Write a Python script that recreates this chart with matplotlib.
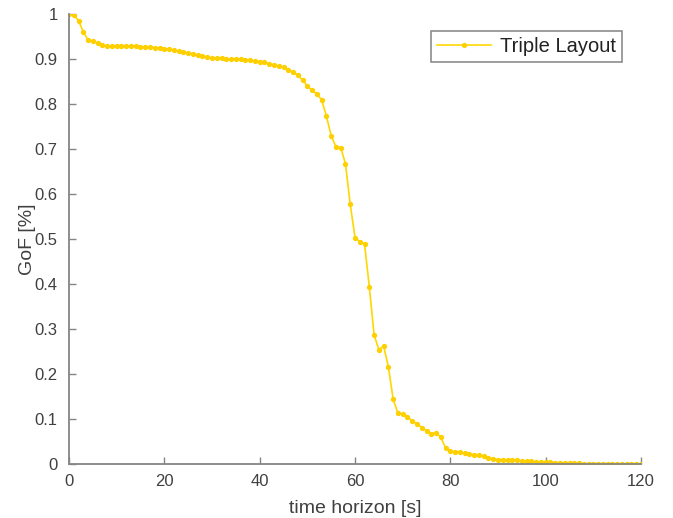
import matplotlib
matplotlib.use("Agg")
import matplotlib.pyplot as plt
import numpy as np

time_s = list(range(0, 121))
gof = [1.000, 0.998, 0.985, 0.960, 0.942, 0.940, 0.935, 0.930, 0.929, 0.928,
       0.928, 0.928, 0.928, 0.928, 0.928, 0.927, 0.927, 0.926, 0.925, 0.924,
       0.923, 0.921, 0.919, 0.917, 0.915, 0.913, 0.911, 0.908, 0.906, 0.904,
       0.902, 0.901, 0.901, 0.900, 0.900, 0.899, 0.899, 0.898, 0.897, 0.895,
       0.894, 0.892, 0.889, 0.887, 0.884, 0.882, 0.876, 0.870, 0.864, 0.853,
       0.840, 0.830, 0.822, 0.809, 0.773, 0.729, 0.705, 0.703, 0.667, 0.577,
       0.503, 0.494, 0.489, 0.394, 0.287, 0.254, 0.262, 0.216, 0.144, 0.113,
       0.111, 0.105, 0.096, 0.089, 0.081, 0.074, 0.067, 0.070, 0.059, 0.036,
       0.029, 0.027, 0.026, 0.024, 0.022, 0.021, 0.019, 0.018, 0.014, 0.011,
       0.010, 0.010, 0.009, 0.009, 0.008, 0.007, 0.007, 0.006, 0.005, 0.005,
       0.004, 0.004, 0.003, 0.003, 0.002, 0.002, 0.002, 0.002, 0.001, 0.001,
       0.001, 0.001, 0.001, 0.001, 0.001, 0.0005, 0.0005, 0.0005, 0.0005, 0.0005,
       0.0005]
series_label = "Triple Layout"
x_ticks = [0, 20, 40, 60, 80, 100, 120]
y_ticks = [0, 0.1, 0.2, 0.3, 0.4, 0.5, 0.6, 0.7, 0.8, 0.9, 1.0]
y_tick_labels = ["0", "0.1", "0.2", "0.3", "0.4", "0.5", "0.6", "0.7", "0.8", "0.9", "1"]

plt.rcParams['font.family'] = ['Liberation Sans', 'DejaVu Sans']
txt = '#404040'
axc = '#858585'

fig = plt.figure(figsize=(6.73, 5.18), dpi=100)
ax = fig.add_axes([0.1025, 0.1042, 0.85, 0.869])
ax.plot(time_s, gof, color='#FFD700', lw=1.2, marker='o', ms=2.8,
        mec='#FFD000', mfc='#FFD000', label=series_label)
ax.set_xlim(0, 120)
ax.set_ylim(0, 1)
ax.set_xticks(x_ticks)
ax.set_yticks(y_ticks)
ax.set_yticklabels(y_tick_labels)
for s in ['top', 'right']:
    ax.spines[s].set_visible(False)
for s in ['left', 'bottom']:
    ax.spines[s].set_color(axc)
    ax.spines[s].set_linewidth(1.3)
ax.tick_params(direction='in', length=5, width=1, color=axc, labelsize=12,
               labelcolor=txt)
ax.tick_params(axis='y', pad=8)
ax.tick_params(axis='x', pad=7)
ax.set_xlabel('time horizon [s]', fontsize=14, color=txt, labelpad=8)
ax.set_ylabel('GoF [%]', fontsize=14, color=txt, labelpad=-1)
leg = ax.legend(loc='upper right', bbox_to_anchor=(0.966, 0.962), fontsize=14.5,
                frameon=True, fancybox=False, handlelength=2.7, borderpad=0.3,
                handletextpad=0.4, borderaxespad=0)
leg.get_frame().set_edgecolor('#707070')
leg.get_frame().set_linewidth(1.2)
for t in leg.get_texts():
    t.set_color('#222222')
fig.savefig('out.png', dpi=100, facecolor='white')
